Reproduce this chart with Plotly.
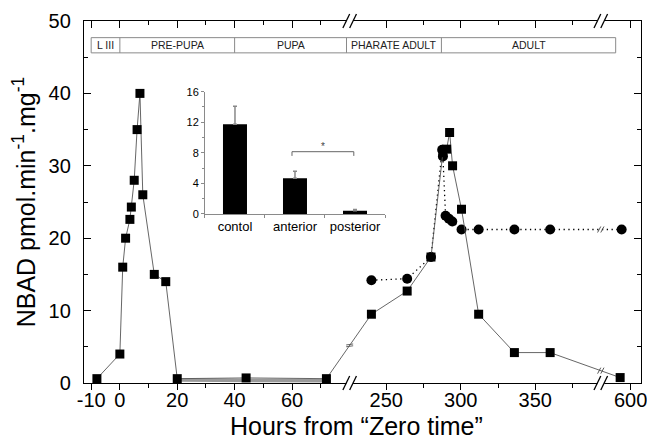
import numpy as np
import plotly.graph_objects as go

# NBAD activity, squares joined by a thin solid line
sq_hours = [-8, 0, 1, 2, 3.5, 4, 5, 6, 7, 8, 12, 16, 20, 44, 72,
            240, 264, 280, 288, 290.5, 292.5, 294.5, 300.5, 312, 336, 360, 593]
sq_nbad = [0.6, 4, 16, 20, 22.6, 24.3, 28, 35, 40, 26, 15, 14, 0.6, 0.7, 0.6,
           9.5, 12.7, 17.4, 31.8, 32.3, 34.6, 30.0, 24.0, 9.5, 4.2, 4.2, 0.75]
# circles joined by a dotted line
circ_hours = [240, 264, 280, 287.5, 288, 289.8, 292, 294.3, 300.5, 312, 336, 360, 594]
circ_nbad = [14.2, 14.4, 17.4, 32.2, 31.3, 23.1, 22.7, 22.3, 21.2, 21.2, 21.2, 21.2, 21.2]
# grey band along the pupal plateau
band_hours = [20, 72]
band_nbad = [0.4, 0.3]

# developmental stages (boxes at the top)
stage_names = ["L III", "PRE-PUPA", "PUPA", "PHARATE ADULT", "ADULT"]
stage_edges = [-10, 0, 40, 79, 287, 590]

# x ticks (hours)
major_ticks = [-10, 0, 20, 40, 60, 250, 300, 350, 600]
minor_ticks = [10, 30, 50, 70, 275, 325, 375]

# inset bar chart
inset_groups = ["contol", "anterior", "posterior"]
inset_means = [11.75, 4.67, 0.43]
inset_err = [2.35, 0.93, 0.17]

# broken x axis: (first hour, last hour, pixels per hour)
segs = [(-12.5, 80.1, 2.87), (225.4, 394.0, 1.49), (580.0, 607.0, 1.49)]
U0 = 84.0


def to_u(hours):
    out = []
    for h in np.atleast_1d(hours):
        start = U0
        for h0, h1, k in segs:
            if h <= h1 + 1e-9:
                out.append(start + (max(h, h0) - h0) * k)
                break
            start += (h1 - h0) * k
    return np.array(out)


breaks = []
start = U0
for h0, h1, k in segs:
    start += (h1 - h0) * k
    breaks.append(start)
U1 = breaks[-1]
breaks = breaks[:-1]


def px(u):
    return (u - U0) / (U1 - U0)


font = "Liberation Sans, Arial, sans-serif"
u_sq = to_u(sq_hours)
u_ci = to_u(circ_hours)

fig = go.Figure()
fig.add_trace(go.Scatter(x=to_u(band_hours), y=band_nbad, mode="lines",
                         line=dict(color="#9a9a9a", width=3.5), hoverinfo="skip"))
fig.add_trace(go.Scatter(x=u_ci, y=circ_nbad, mode="lines+markers",
                         line=dict(color="black", width=1.3, dash="1.3px,3.5px"),
                         marker=dict(symbol="circle", size=10, color="black")))
fig.add_trace(go.Scatter(x=u_sq, y=sq_nbad, mode="lines+markers",
                         line=dict(color="#555555", width=0.9),
                         marker=dict(symbol="square", size=9, color="black")))
# empty trace so the top tick axis gets drawn
fig.add_trace(go.Scatter(x=[None], y=[None], xaxis="x2", yaxis="y", hoverinfo="skip"))

# inset
fig.add_trace(go.Bar(x=inset_groups, y=inset_means, xaxis="x3", yaxis="y3",
                     width=0.4, marker=dict(color="black", line=dict(width=0)),
                     error_y=dict(type="data", symmetric=False, array=inset_err,
                                  arrayminus=[0, 0, 0], color="#888888",
                                  thickness=1.5, width=2)))

shapes = []
# stage boxes
su = to_u(stage_edges)
shapes.append(dict(type="rect", xref="x", yref="y", x0=su[0], x1=su[-1], y0=45.6, y1=47.7,
                   line=dict(color="#8a8a8a", width=1), fillcolor="white", layer="below"))
for e in su[1:-1]:
    shapes.append(dict(type="line", xref="x", yref="y", x0=e, x1=e, y0=45.6, y1=47.7,
                       line=dict(color="#8a8a8a", width=1)))

# axis break marks
pyp = 1 / 362.0
for b in breaks:
    for yb in (0, 1):
        shapes.append(dict(type="rect", xref="paper", yref="paper",
                           x0=px(b - 3.4), x1=px(b + 3.4), y0=yb - 3 * pyp, y1=yb + 3 * pyp,
                           fillcolor="white", line=dict(width=0), layer="above"))
        for d in (-3.4, 3.4):
            shapes.append(dict(type="line", xref="paper", yref="paper",
                               x0=px(b + d - 3.4), x1=px(b + d + 3.4),
                               y0=yb - 7 * pyp, y1=yb + 7 * pyp,
                               line=dict(color="black", width=1.3), layer="above"))

# break marks on the data lines
ypx = 50 / 362.0
yb1 = np.interp(breaks[0], u_sq, sq_nbad)
for d in (-0.9, 0.9):
    shapes.append(dict(type="line", xref="x", yref="y", x0=breaks[0] - 3.5, x1=breaks[0] + 3.5,
                       y0=yb1 + d * ypx - 0.5 * ypx, y1=yb1 + d * ypx + 0.5 * ypx,
                       line=dict(color="#555555", width=0.9)))
for uu, yy in ((u_sq, sq_nbad), (u_ci, circ_nbad)):
    yb2 = np.interp(breaks[1], uu, yy)
    for d in (-1.6, 1.6):
        shapes.append(dict(type="line", xref="x", yref="y",
                           x0=breaks[1] + d - 1.6, x1=breaks[1] + d + 1.6,
                           y0=yb2 - 3 * ypx, y1=yb2 + 3 * ypx,
                           line=dict(color="#444444", width=0.9)))

# significance bracket in inset
shapes.append(dict(type="path", xref="x3", yref="y3",
                   path="M 0.95,7.6 L 0.95,8.15 L 1.98,8.15 L 1.98,7.6",
                   line=dict(color="#666666", width=1)))

annotations = []
for i, name in enumerate(stage_names):
    annotations.append(dict(x=(su[i] + su[i + 1]) / 2, y=46.65, xref="x", yref="y",
                            text=name, showarrow=False,
                            font=dict(family=font, size=10.5, color="#222222")))
annotations.append(dict(x=1.47, y=8.15, xref="x3", yref="y3", text="*", showarrow=False,
                        yanchor="bottom", yshift=-2, font=dict(family=font, size=10, color="#444444")))
# x axis title
annotations.append(dict(x=0.49, y=-0.118, xref="paper", yref="paper", yanchor="middle",
                        text="Hours from \u201cZero time\u201d", showarrow=False,
                        font=dict(family=font, size=25, color="black")))

tick_u = to_u(major_ticks)
minor_u = to_u(minor_ticks)

# the page body adds an 8px offset, so the figure is 8px smaller and shifted
fig.update_layout(
    width=647, height=432,
    margin=dict(l=76, r=14, t=13, b=57, autoexpand=False),
    paper_bgcolor="white", plot_bgcolor="white",
    showlegend=False,
    font=dict(family=font, color="black"),
    shapes=shapes, annotations=annotations,
    xaxis=dict(range=[U0, U1], tickmode="array", tickvals=tick_u,
               ticktext=[str(t) for t in major_ticks], automargin=False,
               showline=True, linecolor="black", linewidth=1.3, mirror=True,
               ticks="outside", ticklen=6, tickwidth=1.2, tickcolor="black",
               minor=dict(tickvals=minor_u, ticks="outside", ticklen=4, tickwidth=1.2,
                          tickcolor="black"),
               showgrid=False, zeroline=False, ticklabelstandoff=-7,
               tickfont=dict(size=20)),
    xaxis2=dict(range=[U0, U1], overlaying="x", side="top", anchor="y", automargin=False,
                tickmode="array", tickvals=tick_u, showticklabels=False,
                ticks="inside", ticklen=7, tickwidth=1.2, tickcolor="black",
                minor=dict(tickvals=minor_u, ticks="inside", ticklen=4, tickwidth=1.2,
                           tickcolor="black"),
                showline=False, showgrid=False, zeroline=False),
    yaxis=dict(range=[0, 50], dtick=10, tick0=0, automargin=False,
               showline=True, linecolor="black", linewidth=1.3, mirror="ticks",
               ticks="inside", ticklen=7, tickwidth=1.2, tickcolor="black",
               minor=dict(dtick=5, ticks="inside", ticklen=4, tickwidth=1.2, tickcolor="black"),
               showgrid=False, zeroline=False, ticklabelstandoff=8,
               tickfont=dict(size=20),
               title=dict(text="NBAD pmol.min<sup>-1</sup>.mg<sup>-1</sup>",
                          font=dict(size=25), standoff=8)),
    xaxis3=dict(domain=[0.2172, 0.5404], anchor="y3", range=[-0.5, 2.5], automargin=False,
                showline=True, linecolor="#8a8a8a", linewidth=1.2, tickangle=0,
                ticks="outside", tickson="boundaries", ticklen=3, tickcolor="#8a8a8a",
                showgrid=False, zeroline=False, tickfont=dict(size=13)),
    yaxis3=dict(domain=[0.4669, 0.8047], anchor="x3", range=[0, 16], dtick=4, automargin=False,
                showline=True, linecolor="#8a8a8a", linewidth=1,
                ticks="outside", ticklen=3, tickcolor="#8a8a8a",
                minor=dict(dtick=2, ticks="outside", ticklen=2, tickcolor="#8a8a8a"),
                showgrid=False, zeroline=False, tickfont=dict(size=11)),
)

fig.write_html("out.html")
